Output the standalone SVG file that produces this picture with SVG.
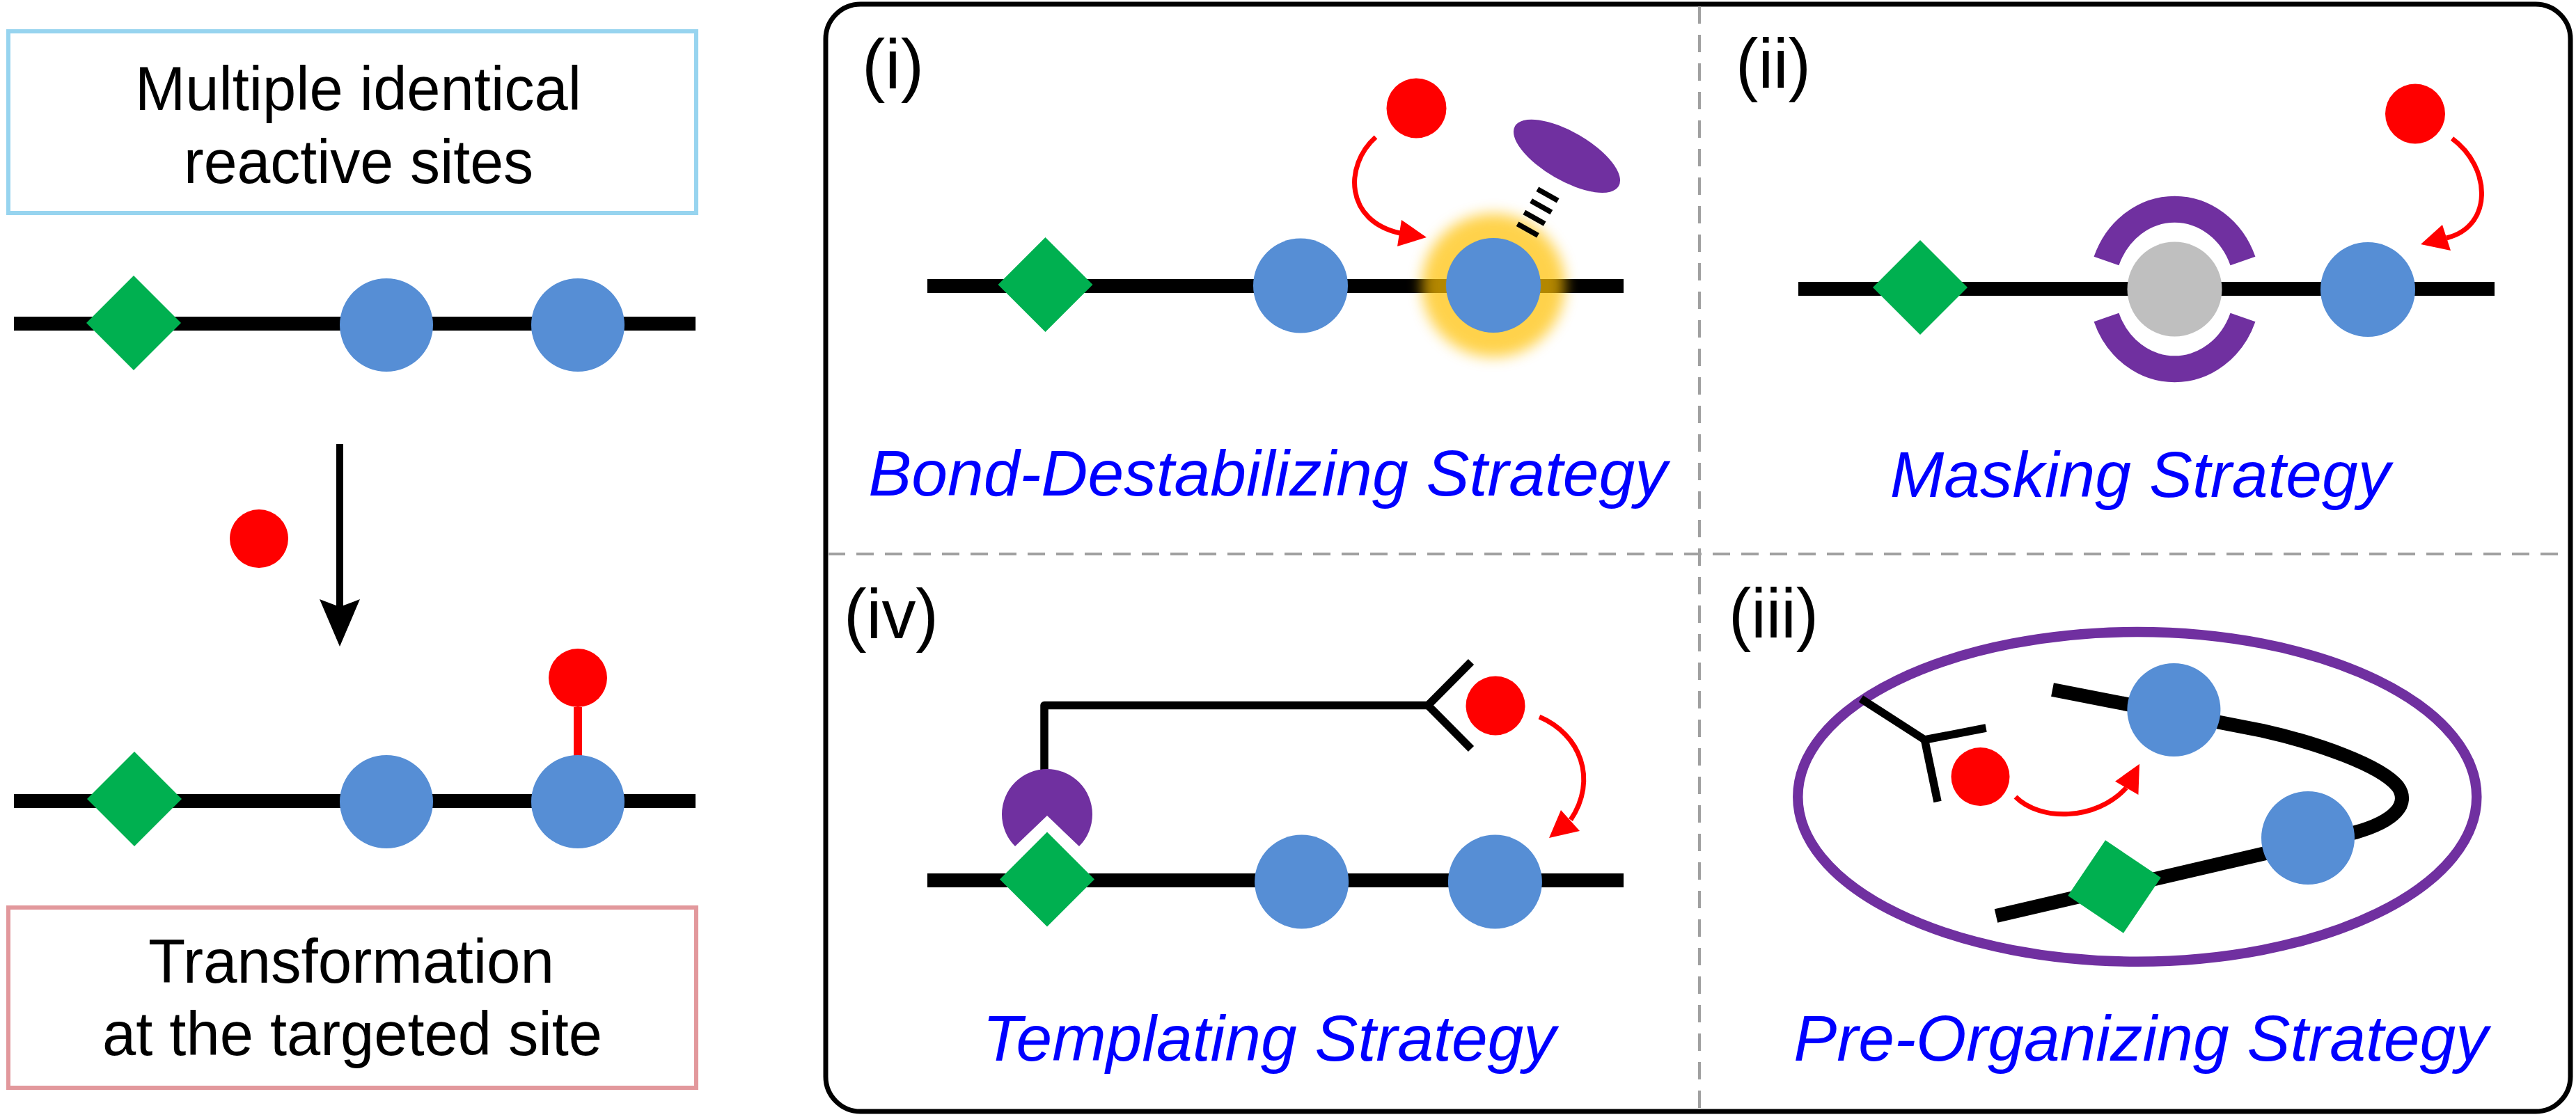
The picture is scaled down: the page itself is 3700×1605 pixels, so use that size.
<svg xmlns="http://www.w3.org/2000/svg" xmlns:xlink="http://www.w3.org/1999/xlink" width="3700" height="1605" viewBox="0 0 3700 1605">
<style>
.txt{font-family:"Liberation Sans",Arial,Helvetica,sans-serif;fill:#000}
.lbl{font-size:89px}
.num{font-size:100px}
.strat{font-family:"Liberation Sans",Arial,Helvetica,sans-serif;font-style:italic;font-size:93px;fill:#0000FF}
.chain{stroke:#000;stroke-width:20;fill:none}
.blue{fill:#568ED5}
.green{fill:#00B050}
.red{fill:#FF0000}
.purple{fill:#7030A0}
.gray{fill:#BFBFBF}
.redarrow{stroke:#FF0000;stroke-width:7;fill:none}
.linker{stroke:#000;stroke-width:11.5;fill:none;stroke-linejoin:round}
.dash{stroke:#A0A0A0;stroke-width:4;stroke-dasharray:25 16;fill:none}
</style>
<defs>
<polygon id="dia" points="0,-68 68,0 0,68 -68,0"/>
<filter id="blur" x="-50%" y="-50%" width="200%" height="200%">
<feGaussianBlur stdDeviation="10"/>
</filter>
</defs>
<rect width="3700" height="1605" fill="#FFFFFF"/>

<!-- Left panel -->
<g id="box-multiple">
<rect x="12" y="45" width="988" height="261" fill="none" stroke="#97D4EF" stroke-width="6"/>
<text class="txt lbl" x="514.5" y="158" text-anchor="middle" textLength="641" lengthAdjust="spacingAndGlyphs">Multiple identical</text>
<text class="txt lbl" x="515" y="263" text-anchor="middle" textLength="502" lengthAdjust="spacingAndGlyphs">reactive sites</text>
</g>
<g id="chain-before">
<line class="chain" x1="20" y1="465" x2="999" y2="465"/>
<use href="#dia" x="192" y="464" class="green"/>
<circle class="blue" cx="555" cy="467" r="67"/>
<circle class="blue" cx="830" cy="467" r="67"/>
</g>
<g id="reagent-left">
<circle class="red" cx="372" cy="774" r="42"/>
</g>
<g id="chain-after">
<line class="chain" x1="20" y1="1151" x2="999" y2="1151"/>
<use href="#dia" x="193" y="1148" class="green"/>
<circle class="blue" cx="555" cy="1152" r="67"/>
<line x1="830" y1="1016" x2="830" y2="1090" stroke="#FF0000" stroke-width="12"/>
<circle class="blue" cx="830" cy="1152" r="67"/>
<circle class="red" cx="830" cy="974" r="42"/>
</g>
<g id="box-transformation">
<rect x="12" y="1304" width="988" height="259" fill="none" stroke="#E2989C" stroke-width="6"/>
<text class="txt lbl" x="504.5" y="1412" text-anchor="middle" textLength="583" lengthAdjust="spacingAndGlyphs">Transformation</text>
<text class="txt lbl" x="506" y="1516" text-anchor="middle" textLength="718" lengthAdjust="spacingAndGlyphs">at the targeted site</text>
</g>

<!-- Right frame -->
<g id="frame">
<rect x="1186" y="6" width="2506" height="1591" rx="50" ry="50" fill="none" stroke="#000" stroke-width="7"/>
<line class="dash" x1="2441" y1="9" x2="2441" y2="1594"/>
<line class="dash" x1="1189" y1="796" x2="3689" y2="796"/>
</g>

<!-- Panel (i) -->
<g id="panel-i">
<text class="txt num" x="1238" y="127" textLength="89" lengthAdjust="spacingAndGlyphs">(i)</text>
<line class="chain" x1="1332" y1="411" x2="2332" y2="411" stroke-width="21"/>
<use href="#dia" x="1501.5" y="409" class="green"/>
<circle class="blue" cx="1868" cy="410.5" r="68"/>
<circle cx="2145" cy="410" r="103" fill="#FFC000" opacity="0.7" filter="url(#blur)"/>
<circle class="blue" cx="2145" cy="410" r="68"/>
<circle class="red" cx="2034.5" cy="155.5" r="43"/>
<ellipse class="purple" cx="0" cy="0" rx="86" ry="35" transform="translate(2250.5 224.3) rotate(30)"/>
<g stroke="#000" stroke-width="7.5">
<line x1="2208.3" y1="271.7" x2="2237.7" y2="288.3"/>
<line x1="2199" y1="288.4" x2="2228.4" y2="305"/>
<line x1="2189.3" y1="305" x2="2218.7" y2="321.6"/>
<line x1="2179.6" y1="321.7" x2="2209" y2="338.3"/>
</g>
<text class="strat" x="1821" y="712" text-anchor="middle">Bond-Destabilizing Strategy</text>
</g>

<!-- Panel (ii) -->
<g id="panel-ii">
<text class="txt num" x="2493" y="126" textLength="108" lengthAdjust="spacingAndGlyphs">(ii)</text>
<line class="chain" x1="2583" y1="415" x2="3583" y2="415" stroke-width="21"/>
<use href="#dia" x="2758" y="413" class="green"/>
<circle class="gray" cx="3123.5" cy="415.5" r="68"/>
<path d="M3025.5 375 A105 116 0 0 1 3221.5 375" stroke="#7030A0" stroke-width="38" fill="none"/>
<path d="M3025.5 456 A105 116 0 0 0 3221.5 456" stroke="#7030A0" stroke-width="38" fill="none"/>
<circle class="blue" cx="3401" cy="416" r="68"/>
<circle class="red" cx="3469" cy="163.4" r="43"/>
<text class="strat" x="3074" y="714" text-anchor="middle">Masking Strategy</text>
</g>

<!-- Panel (iv) -->
<g id="panel-iv">
<text class="txt num" x="1212" y="917" textLength="136" lengthAdjust="spacingAndGlyphs">(iv)</text>
<path class="linker" d="M1500 1106 L1500 1013.5 L2051 1013.5"/>
<path class="linker" d="M2113 951 L2051 1013.5 L2113 1076" stroke-linejoin="miter"/>
<path class="purple" d="M1504 1172 L1458 1216 A65 65 0 1 1 1550 1216 Z"/>
<line class="chain" x1="1332" y1="1265" x2="2332" y2="1265"/>
<use href="#dia" x="1504" y="1263.5" class="green"/>
<circle class="blue" cx="1869.6" cy="1267" r="67.5"/>
<circle class="blue" cx="2147.4" cy="1267" r="67.5"/>
<circle class="red" cx="2148" cy="1014" r="42.5"/>
<text class="strat" x="1823" y="1524" text-anchor="middle">Templating Strategy</text>
</g>

<!-- Panel (iii) -->
<g id="panel-iii">
<text class="txt num" x="2483" y="916" textLength="129" lengthAdjust="spacingAndGlyphs">(iii)</text>
<ellipse cx="3069.8" cy="1144.9" rx="487.5" ry="236.8" fill="none" stroke="#7030A0" stroke-width="14.5"/>
<path class="chain" d="M2948 991 L3250 1050 C3330 1068 3420 1100 3444 1130 C3462 1155 3440 1180 3383 1196 L2867 1316"/>
<circle class="blue" cx="3122.4" cy="1020" r="67"/>
<circle class="blue" cx="3315" cy="1204" r="67"/>
<use href="#dia" class="green" transform="translate(3037 1274) rotate(-11)"/>
<path class="linker" d="M2673 1004 L2764.5 1063 L2852.6 1046" stroke-linejoin="miter"/>
<line class="linker" x1="2764.5" y1="1063" x2="2783" y2="1152"/>
<circle class="red" cx="2844.5" cy="1116" r="42"/>
<text class="strat" x="3075" y="1524" text-anchor="middle">Pre-Organizing Strategy</text>
</g>

<!-- Connectors -->
<g id="connectors">
<line x1="488" y1="638" x2="488" y2="875" stroke="#000" stroke-width="10"/>
<polygon points="488,929 459,861 488,872 517,861" fill="#000"/>
<path class="redarrow" d="M1976 197 C1930 238 1932 318 2011 335"/>
<polygon class="red" points="2049,341 2013,316 2007,354"/>
<path class="redarrow" d="M3522 199 C3578 240 3582 325 3514 342"/>
<polygon class="red" points="3477,351 3508,323 3520,360"/>
<path class="redarrow" d="M2211 1030 C2270 1055 2295 1120 2256 1178"/>
<polygon class="red" points="2225,1204 2242,1164 2269,1194"/>
<path class="redarrow" d="M2895 1145 C2930 1180 3010 1180 3054 1132"/>
<polygon class="red" points="3073,1097.7 3038,1122.7 3071.4,1142"/>
</g>
</svg>
